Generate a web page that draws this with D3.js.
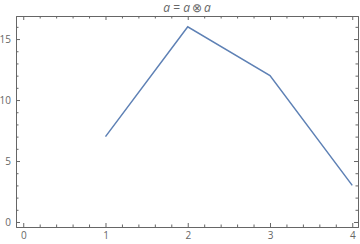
<!DOCTYPE html>
<html>
<head>
<meta charset="utf-8">
<script src="https://cdn.jsdelivr.net/npm/d3@7"></script>
<style>
  body { margin: 0; background: #fff; }
  .axis text { font-family: "Open Sans", sans-serif; font-size: 10px; fill: #666; }
  .axis path, .axis line { stroke: #666; }
</style>
</head>
<body>
<div id="chart"></div>
<script>
var xValues = [1, 2, 3, 4];
var yValues = [7, 16, 12, 3];
var xTicks = [0, 1, 2, 3, 4];
var yTicks = [0, 5, 10, 15];

var svgWidth = 360;
var svgHeight = 244;
var margin = { top: 16, right: 2, bottom: 17, left: 16 };
var chartWidth = svgWidth - margin.left - margin.right;
var chartHeight = svgHeight - margin.top - margin.bottom;

var svg = d3.select("#chart")
    .append("svg")
    .attr("width", svgWidth)
    .attr("height", svgHeight);

var chartGroup = svg.append("g")
    .attr("transform", `translate(${margin.left}, ${margin.top})`);

var xScale = d3.scaleLinear()
    .domain([-0.088, 4.07])
    .range([0, chartWidth]);

var yScale = d3.scaleLinear()
    .domain([-0.41, 16.89])
    .range([chartHeight, 0]);

var xMinor = d3.range(-0.0, 4.01, 0.2).filter(d => Math.abs(d - Math.round(d)) > 0.01);
var yMinor = d3.range(0, 17, 1).filter(d => d % 5 !== 0);

function frameSide(axisFn, scale, major, minor, labels, transform) {
    var g = chartGroup.append("g").attr("class", "axis").attr("transform", transform);
    g.call(axisFn(scale).tickValues(major).tickSize(-4).tickPadding(5)
        .tickFormat(labels ? d3.format("d") : ""));
    g.append("g").call(axisFn(scale).tickValues(minor).tickSize(-2.5).tickFormat(""))
        .select(".domain").remove();
    g.selectAll("path.domain").attr("stroke", "#666");
    return g;
}

frameSide(d3.axisBottom, xScale, xTicks, xMinor, true, `translate(0, ${chartHeight})`);
frameSide(d3.axisTop, xScale, xTicks, xMinor, false, "translate(0, 0)");
frameSide(d3.axisLeft, yScale, yTicks, yMinor, true, "translate(0, 0)");
frameSide(d3.axisRight, yScale, yTicks, yMinor, false, `translate(${chartWidth}, 0)`);

chartGroup.selectAll(".tick text").attr("fill", "#666");

var line = d3.line()
    .x((d, i) => xScale(xValues[i]))
    .y(d => yScale(d));

chartGroup.append("path")
    .datum(yValues)
    .attr("d", line)
    .attr("fill", "none")
    .attr("stroke", "#5E81B5")
    .attr("stroke-width", 1.5);

var title = svg.append("text")
    .attr("x", margin.left + chartWidth / 2)
    .attr("y", 12)
    .attr("text-anchor", "middle")
    .attr("font-family", "Open Sans, sans-serif")
    .attr("font-size", "12px")
    .attr("fill", "#666");
title.append("tspan").attr("font-style", "italic").text("a");
title.append("tspan").text(" = ");
title.append("tspan").attr("font-style", "italic").text("a");
title.append("tspan").text("\u2009\u2297\u2009");
title.append("tspan").attr("font-style", "italic").text("a");
</script>
</body>
</html>
